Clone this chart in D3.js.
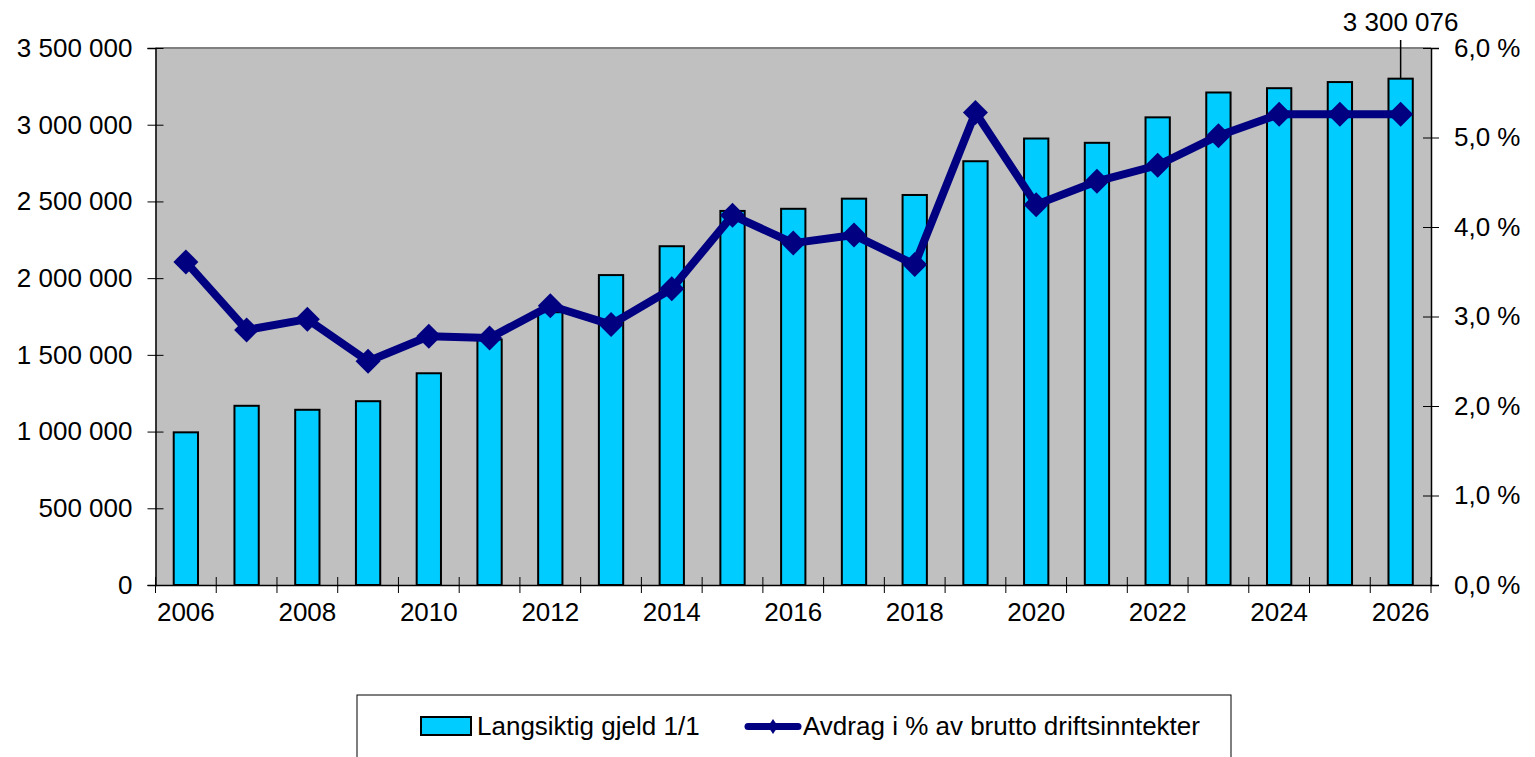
<!DOCTYPE html>
<html>
<head>
<meta charset="utf-8">
<script src="https://cdn.jsdelivr.net/npm/d3@7"></script>
<style>
  body { margin: 0; background: #fff; }
  text { font-family: "Liberation Sans", Arial, sans-serif; }
</style>
</head>
<body>
<div id="chart"></div>
<script>
// data
const years = d3.range(2006, 2027);
const debt = [995000, 1168000, 1142000, 1198000, 1380000, 1600000, 1778000, 2020000, 2208000, 2438000,
              2452000, 2518000, 2542000, 2762000, 2910000, 2882000, 3048000, 3210000, 3238000, 3278000, 3300076];
const avdrag = [3.61, 2.85, 2.97, 2.50, 2.78, 2.76, 3.12, 2.91, 3.31, 4.13,
                3.82, 3.91, 3.58, 5.28, 4.25, 4.51, 4.69, 5.02, 5.26, 5.26, 5.26];
const leftTicks = d3.range(0, 3500001, 500000);
const rightTicks = [0, 1, 2, 3, 4, 5, 6];
const labelYears = years.filter(y => y % 2 === 0);

const svg = d3.select('#chart').append('svg')
    .attr('width', 1535)
    .attr('height', 757);

const margin = {top: 48, left: 155.5, right: 104, bottom: 172};
const width = 1535 - margin.left - margin.right;
const height = 757 - margin.top - margin.bottom;
const fs = "26px";

const g = svg.append("g").attr("transform", `translate(${margin.left}, ${margin.top})`);

const loc = d3.formatLocale({decimal: ",", thousands: " ", grouping: [3], currency: ["", ""]});
const fmtNum = loc.format(",.0f");
const fmtPct = v => loc.format(".1f")(v) + " %";

const x = d3.scaleBand().domain(years).range([0, width]).padding(0);
const yL = d3.scaleLinear().domain([0, 3500000]).range([height, 0]);
const yR = d3.scaleLinear().domain([0, 6]).range([height, 0]);

// plot background
g.append("rect")
    .attr("width", width).attr("height", height)
    .attr("fill", "#c0c0c0");
g.append("line")
    .attr("x1", 0).attr("x2", width).attr("y1", 0).attr("y2", 0)
    .attr("stroke", "#808080").attr("stroke-width", 2);

// bars
const barW = x.bandwidth() * 0.4;
g.selectAll(".bar")
    .data(years)
    .enter()
    .append("rect")
    .attr("class", "bar")
    .attr("x", (d, i) => x(d) + (x.bandwidth() - barW) / 2)
    .attr("y", (d, i) => yL(debt[i]))
    .attr("width", barW)
    .attr("height", (d, i) => height - yL(debt[i]))
    .attr("fill", "#00ccff")
    .attr("stroke", "#000")
    .attr("stroke-width", 2);

// left axis
const axL = g.append("g")
    .call(d3.axisLeft(yL).tickValues(leftTicks).tickFormat(fmtNum).tickSize(8).tickPadding(15));
axL.select(".domain").attr("stroke-width", 1.5);
axL.selectAll(".tick line").attr("x1", 8);
axL.selectAll(".tick text").style("font-size", fs).attr("fill", "#000");

// right axis
const axR = g.append("g")
    .attr("transform", `translate(${width}, 0)`)
    .call(d3.axisRight(yR).tickValues(rightTicks).tickFormat(fmtPct).tickSize(8).tickPadding(15));
axR.select(".domain").attr("stroke-width", 1.5);
axR.selectAll(".tick line").attr("x1", -8);
axR.selectAll(".tick text").style("font-size", fs).attr("fill", "#000");

// bottom axis
const axB = g.append("g")
    .attr("transform", `translate(0, ${height})`)
    .call(d3.axisBottom(x).tickValues(labelYears).tickSize(0).tickPadding(18));
axB.select(".domain").attr("stroke-width", 1.5);
axB.selectAll(".tick text").style("font-size", fs).attr("fill", "#000");
const bounds = years.map(d => x(d)).concat([width]);
axB.selectAll(".bnd")
    .data(bounds)
    .enter()
    .append("line")
    .attr("class", "bnd")
    .attr("x1", d => d).attr("x2", d => d)
    .attr("y1", -8).attr("y2", 8)
    .attr("stroke", "#000");

// line series
const diamond = h => `M0,${-h}L${h},0L0,${h}L${-h},0Z`;
const line = d3.line()
    .x((d, i) => x(years[i]) + x.bandwidth() / 2)
    .y(d => yR(d));
g.append("path")
    .datum(avdrag)
    .attr("d", line)
    .attr("fill", "none")
    .attr("stroke", "#000080")
    .attr("stroke-width", 8)
    .attr("stroke-linejoin", "round");
g.selectAll(".mark")
    .data(avdrag)
    .enter()
    .append("path")
    .attr("class", "mark")
    .attr("d", diamond(12.5))
    .attr("transform", (d, i) => `translate(${x(years[i]) + x.bandwidth() / 2}, ${yR(d)})`)
    .attr("fill", "#000080");

// data label on the last bar
const lastX = x(years[years.length - 1]) + x.bandwidth() / 2;
g.append("line")
    .attr("x1", lastX).attr("x2", lastX)
    .attr("y1", -8).attr("y2", yL(debt[debt.length - 1]))
    .attr("stroke", "#000").attr("stroke-width", 1.5);
g.append("text")
    .attr("x", lastX)
    .attr("y", -17)
    .attr("text-anchor", "middle")
    .style("font-size", fs)
    .text(fmtNum(debt[debt.length - 1]));

// legend
const lg = svg.append("g").attr("transform", "translate(357, 695)");
lg.append("rect")
    .attr("width", 874).attr("height", 70)
    .attr("fill", "#fff").attr("stroke", "#000").attr("stroke-width", 1);
lg.append("rect")
    .attr("x", 64).attr("y", 22).attr("width", 50).attr("height", 18)
    .attr("fill", "#00ccff").attr("stroke", "#000").attr("stroke-width", 2);
lg.append("text")
    .attr("x", 120).attr("y", 40)
    .style("font-size", fs)
    .text("Langsiktig gjeld 1/1");
lg.append("line")
    .attr("x1", 391).attr("x2", 441).attr("y1", 31.5).attr("y2", 31.5)
    .attr("stroke", "#000080").attr("stroke-width", 7).attr("stroke-linecap", "round");
lg.append("path")
    .attr("d", "M0,-7.5L5,0L0,7.5L-5,0Z")
    .attr("transform", "translate(416, 31.5)")
    .attr("fill", "#000080");
lg.append("text")
    .attr("x", 446).attr("y", 40)
    .style("font-size", fs)
    .text("Avdrag i % av brutto driftsinntekter");
</script>
</body>
</html>
